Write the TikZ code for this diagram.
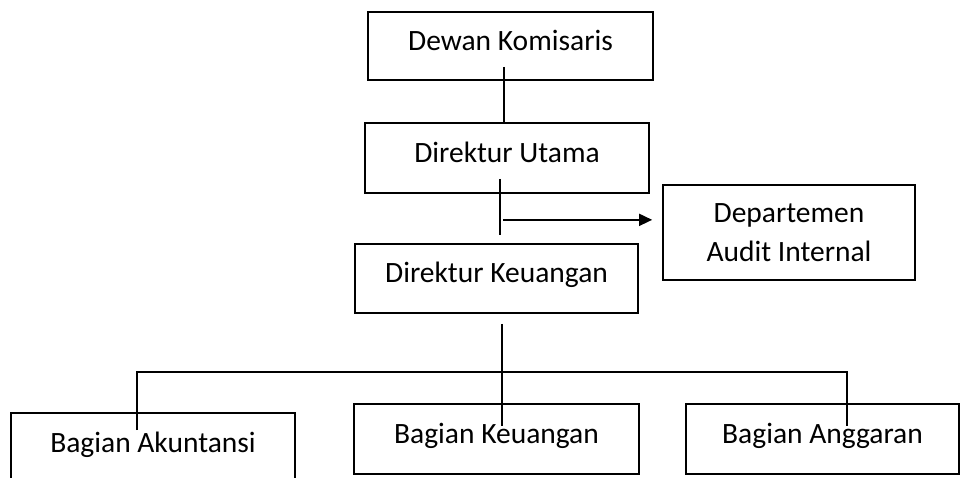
\documentclass[tikz,border=0pt]{standalone}
\usepackage{fontspec}
\setmainfont{Carlito}
\usetikzlibrary{positioning,calc,arrows.meta}

\begin{document}
\begin{tikzpicture}[x=1pt, y=-1pt, >={Triangle[length=13pt,width=12pt]}, line width=1.7pt,
  font=\fontsize{29.5}{39}\selectfont,
  jabatan/.style={draw, rectangle, inner sep=0pt, align=center},
  sebaris/.style={jabatan, text height=20pt, text depth=12pt}]
  \useasboundingbox (0,0) rectangle (960,477);
  \clip (0,0) rectangle (960,477);
  \node[sebaris, minimum width=285, minimum height=68] (komisaris) at (510.5,46) {Dewan Komisaris};
  \node[sebaris, minimum width=284, minimum height=70] (utama) at (507,158) {Direktur Utama};
  \node[jabatan, minimum width=252, minimum height=95] (audit) at (789,232.5) {Departemen\\Audit Internal};
  \node[sebaris, minimum width=283, minimum height=69] (keuangan) at (496.5,278.5) {Direktur Keuangan};
  \node[sebaris, minimum width=284, minimum height=70] (akuntansi) at (153,448) {Bagian Akuntansi};
  \node[sebaris, minimum width=285, minimum height=70] (bkeuangan) at (496.5,439) {Bagian Keuangan};
  \node[sebaris, minimum width=273, minimum height=70] (anggaran) at (822.5,439) {Bagian Anggaran};
  \coordinate (audit-pangkal) at ($(utama.south)+(-4,26)$);
  \draw ($(komisaris.south)+(-6.5,-14)$) -- ($(utama.north)+(-3,0)$);
  \draw ($(utama.south)+(-7,-15)$) -- ($(keuangan.north)+(3.5,-8)$);
  \draw[->] (audit-pangkal) -- ($(audit-pangkal -| audit.west)+(-10,0)$);
  \draw ($(keuangan.south)+(5.5,10)$) -- ($(bkeuangan.north)+(5.5,23)$);
  \draw ($(akuntansi.north)+(-16,18)$) -- ++(0,-58) -| ($(anggaran.north)+(24.5,23)$);
\end{tikzpicture}
\end{document}
